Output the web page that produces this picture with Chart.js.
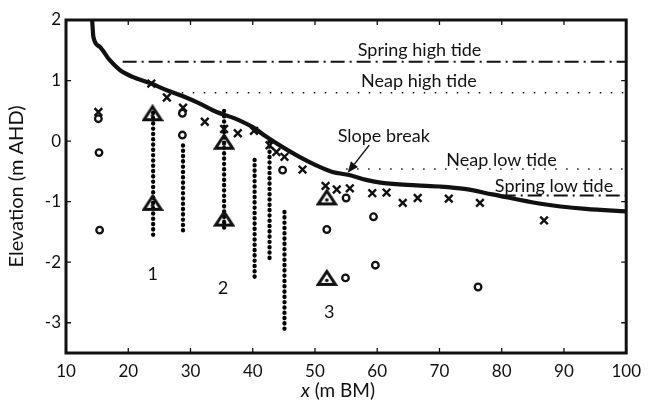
<!DOCTYPE html>
<html>
<head>
<meta charset="utf-8">
<script src="https://cdn.jsdelivr.net/npm/chart.js@4.4.0/dist/chart.umd.min.js"></script>
<style>
  html, body { margin: 0; padding: 0; background: #fff; }
  canvas { display: block; }
</style>
</head>
<body>
<canvas id="beachChart" width="649" height="403"></canvas>
<script>
// --- beach profile (thick line) ---
const profileX = [14.2, 14.4, 15.4, 17.0, 18.7, 20.7, 23.5, 26.2, 28.8, 31.5, 34.2, 37.0, 40.0, 42.2, 44.8, 47.5, 50.2, 52.8, 55.5, 58.2, 60.8, 66.3, 70.0, 74.0, 78.5, 86.0, 93.5, 100];
const profileY = [2.0, 1.72, 1.56, 1.34, 1.17, 1.06, 0.96, 0.84, 0.74, 0.62, 0.48, 0.38, 0.23, 0.07, -0.10, -0.26, -0.40, -0.51, -0.56, -0.64, -0.69, -0.73, -0.75, -0.79, -0.88, -1.03, -1.12, -1.16];

// --- markers ---
const crossX = [15.2, 23.7, 26.2, 28.8, 32.3, 35.4, 37.6, 40.2, 42.7, 43.8, 45.1, 48.0, 51.7, 53.5, 55.6, 59.2, 61.5, 64.1, 66.5, 71.5, 76.5, 86.8];
const crossY = [0.48, 0.95, 0.72, 0.55, 0.32, 0.20, 0.13, 0.17, -0.07, -0.18, -0.26, -0.47, -0.74, -0.80, -0.78, -0.86, -0.85, -1.02, -0.94, -0.95, -1.02, -1.31];

const circleX = [15.2, 15.3, 15.4, 28.7, 28.7, 44.8, 51.9, 54.9, 55.0, 59.4, 59.7, 76.2];
const circleY = [0.37, -0.19, -1.47, 0.46, 0.10, -0.48, -1.46, -2.26, -0.94, -1.25, -2.05, -2.41];

const triX = [23.9, 23.9, 35.4, 35.4, 51.9, 51.9];
const triY = [0.46, -1.02, -0.01, -1.28, -0.93, -2.26];

// --- dotted sediment columns ---
const colX = [24.0, 28.8, 35.4, 40.3, 42.7, 45.1];
const colTop = [0.47, -0.07, 0.50, -0.31, 0.00, -1.17];
const colBottom = [-1.62, -1.50, -1.50, -2.32, -2.01, -3.18];

// --- tide levels ---
const tideNames = ["Spring high tide", "Neap high tide", "Neap low tide", "Spring low tide"];
const tideLevel = [1.31, 0.80, -0.46, -0.90];
const tideStart = [19.1, 28.6, 55.0, 80.0];
const tideEnd = [100, 100, 100, 100];

// --- labels ---
const labelText = ["Spring high tide", "Neap high tide", "Slope break", "Neap low tide", "Spring low tide", "1", "2", "3"];
const labelX = [66.8, 66.7, 61.05, 79.96, 88.4, 23.95, 35.2, 52.3];
const labelY = [1.405, 0.888, -0.01, -0.41, -0.84, -2.29, -2.53, -2.93];
const arrowFrom = [58.72, -0.066];
const arrowTo = [55.25, -0.524];

// axis ticks
const xTicks = [10, 20, 30, 40, 50, 60, 70, 80, 90, 100];
const yTicks = [-3, -2, -1, 0, 1, 2];

const INK = "#111";
const FONT = "Lato, 'Open Sans', sans-serif";

const pts = (xs, ys) => xs.map((x, i) => ({ x: x, y: ys[i] }));

// triangle marker with a dot inside
function makeTriangle() {
  const c = document.createElement("canvas");
  c.width = 22; c.height = 18;
  const g = c.getContext("2d");
  g.strokeStyle = INK; g.fillStyle = INK;
  g.lineWidth = 3; g.lineJoin = "miter";
  g.beginPath();
  g.moveTo(11, 2.5); g.lineTo(2.5, 15.5); g.lineTo(19.5, 15.5); g.closePath();
  g.stroke();
  g.beginPath(); g.arc(11, 11.5, 1.8, 0, Math.PI * 2); g.fill();
  return c;
}
const triImg = makeTriangle();

const datasets = [];

datasets.push({ label: "cross", data: pts(crossX, crossY), pointStyle: "crossRot", pointRadius: 5.4, borderColor: INK, borderWidth: 2.4, showLine: false });
datasets.push({ label: "circle", data: pts(circleX, circleY), pointStyle: "circle", pointRadius: 3.3, borderColor: INK, backgroundColor: "#fff", borderWidth: 2.3, showLine: false });
datasets.push({ label: "triangle", data: pts(triX, triY), pointStyle: triImg, pointRadius: 8, showLine: false });

datasets.push({ label: "profile", data: pts(profileX, profileY), showLine: true, pointRadius: 0, borderColor: INK, borderWidth: 4.2, cubicInterpolationMode: "monotone", borderJoinStyle: "round" });

const tideDash = [[14, 5, 2, 5], [1.5, 9.5], [1.5, 9.5], [14, 5, 2, 5]];
const tideWidth = [2, 1.5, 1.5, 2];
tideNames.forEach((n, i) => {
  datasets.push({
    label: n,
    data: [{ x: tideStart[i], y: tideLevel[i] }, { x: tideEnd[i], y: tideLevel[i] }],
    showLine: true, pointRadius: 0, borderColor: INK, borderWidth: tideWidth[i], borderDash: tideDash[i]
  });
});

colX.forEach((x, i) => {
  datasets.push({
    label: "column " + (i + 1),
    data: [{ x: x, y: colTop[i] }, { x: x, y: colBottom[i] }],
    showLine: true, pointRadius: 0, borderColor: "#000", borderWidth: 4.3, borderDash: [0.3, 5.0], borderCapStyle: "round"
  });
});

// frame, inward ticks, annotations, axis titles
const decor = {
  id: "decor",
  afterDatasetsDraw(chart) {
    const { ctx, chartArea: a, scales: { x, y } } = chart;
    ctx.save();
    // ticks
    ctx.strokeStyle = INK; ctx.lineWidth = 1.3;
    ctx.beginPath();
    x.ticks.forEach(t => {
      const px = x.getPixelForValue(t.value);
      ctx.moveTo(px, a.bottom); ctx.lineTo(px, a.bottom - 5);
      ctx.moveTo(px, a.top); ctx.lineTo(px, a.top + 5);
    });
    y.ticks.forEach(t => {
      const py = y.getPixelForValue(t.value);
      ctx.moveTo(a.left, py); ctx.lineTo(a.left + 5, py);
      ctx.moveTo(a.right, py); ctx.lineTo(a.right - 5, py);
    });
    ctx.stroke();
    // frame
    ctx.lineWidth = 3;
    ctx.strokeRect(a.left, a.top, a.right - a.left, a.bottom - a.top);

    // labels
    ctx.fillStyle = INK;
    ctx.textAlign = "center"; ctx.textBaseline = "alphabetic";
    ctx.font = "18px " + FONT;
    labelText.forEach((s, i) => {
      ctx.fillText(s, x.getPixelForValue(labelX[i]), y.getPixelForValue(labelY[i]));
    });

    // arrow
    const x0 = x.getPixelForValue(arrowFrom[0]), y0 = y.getPixelForValue(arrowFrom[1]);
    const x1 = x.getPixelForValue(arrowTo[0]), y1 = y.getPixelForValue(arrowTo[1]);
    const ang = Math.atan2(y1 - y0, x1 - x0);
    const hl = 11, hw = 4.5;
    const bx = x1 - Math.cos(ang) * hl, by = y1 - Math.sin(ang) * hl;
    ctx.lineWidth = 1.5;
    ctx.beginPath(); ctx.moveTo(x0, y0); ctx.lineTo(bx, by); ctx.stroke();
    ctx.beginPath();
    ctx.moveTo(x1, y1);
    ctx.lineTo(bx - Math.sin(ang) * hw, by + Math.cos(ang) * hw);
    ctx.lineTo(bx + Math.sin(ang) * hw, by - Math.cos(ang) * hw);
    ctx.closePath(); ctx.fill();

    // axis titles
    ctx.font = "20px " + FONT;
    ctx.save();
    ctx.translate(17, (a.top + a.bottom) / 2);
    ctx.rotate(-Math.PI / 2);
    ctx.textBaseline = "middle";
    ctx.fillText("Elevation (m AHD)", 0, 0);
    ctx.restore();

    const italic = "italic 19px " + FONT, normal = "19px " + FONT;
    ctx.font = italic; const w1 = ctx.measureText("x").width;
    ctx.font = normal; const w2 = ctx.measureText(" (m BM)").width;
    const cx = 338, base = 397;
    ctx.textAlign = "left";
    ctx.font = italic; ctx.fillText("x", cx - (w1 + w2) / 2, base);
    ctx.font = normal; ctx.fillText(" (m BM)", cx - (w1 + w2) / 2 + w1, base);
    ctx.restore();
  }
};

new Chart(document.getElementById("beachChart"), {
  type: "scatter",
  data: { datasets: datasets },
  options: {
    responsive: false,
    animation: false,
    devicePixelRatio: 1,
    layout: { padding: { left: 0, top: 20, right: 21, bottom: 0 } },
    plugins: { legend: { display: false }, tooltip: { enabled: false } },
    scales: {
      x: {
        type: "linear", min: 10, max: 100,
        afterBuildTicks: s => { s.ticks = xTicks.map(v => ({ value: v })); },
        afterFit: s => { s.height = 50; },
        grid: { display: false, drawTicks: false },
        border: { display: false },
        ticks: { color: INK, font: { family: FONT, size: 17 }, padding: 8, maxRotation: 0 }
      },
      y: {
        type: "linear", min: -3.5, max: 2,
        afterBuildTicks: s => { s.ticks = yTicks.map(v => ({ value: v })); },
        afterFit: s => { s.width = 66; },
        grid: { display: false, drawTicks: false },
        border: { display: false },
        ticks: { color: INK, font: { family: FONT, size: 17 }, padding: 5 }
      }
    }
  },
  plugins: [decor]
});
</script>
</body>
</html>
